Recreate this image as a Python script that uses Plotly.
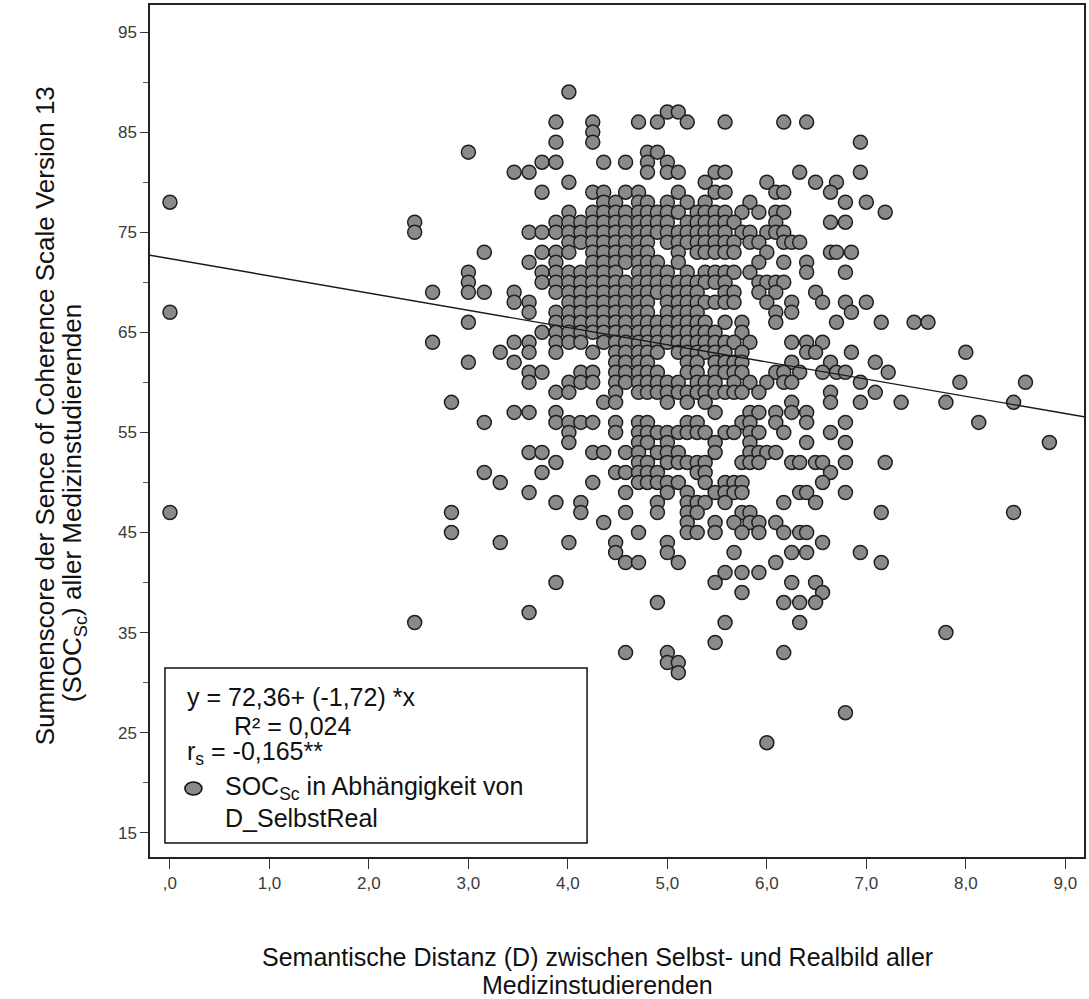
import plotly.graph_objects as go

# ---- data: SOC sum score -> semantic distance D (Selbst vs. Real) of each student ----
soc_89 = [4.01]
soc_87 = [5.00, 5.11]
soc_86 = [3.88, 4.25, 4.71, 4.90, 5.20, 5.58, 6.17, 6.40]
soc_85 = [4.25]
soc_84 = [3.88, 4.25, 6.94]
soc_83 = [3.00, 4.80, 4.90]
soc_82 = [3.74, 3.88, 4.36, 4.58, 4.80, 5.00]
soc_81 = [3.46, 3.61, 4.80, 5.00, 5.11, 5.48, 5.58, 6.33, 6.94]
soc_80 = [4.01, 5.38, 6.00, 6.49, 6.70]
soc_79 = [3.74, 4.25, 4.36, 4.58, 4.71, 5.11, 5.48, 5.58, 6.09, 6.17, 6.64]
soc_78 = [0.00, 4.36, 4.48, 4.71, 4.80, 5.00, 5.20, 5.38, 5.83, 6.79, 7.00]
soc_77 = [4.01, 4.25, 4.36, 4.48, 4.58, 4.71, 4.80, 4.90, 5.00, 5.11, 5.30, 5.38,
          5.48, 5.58, 5.75, 5.92, 6.09, 6.17, 7.19]
soc_76 = [2.46, 3.88, 4.01, 4.13, 4.25, 4.36, 4.48, 4.58, 4.71, 4.80, 4.90, 5.00,
          5.20, 5.30, 5.38, 5.48, 5.58, 5.67, 6.09, 6.64, 6.79]
soc_75 = [2.46, 3.61, 3.74, 3.88, 4.01, 4.13, 4.25, 4.36, 4.48, 4.58, 4.71, 4.80,
          4.90, 5.00, 5.11, 5.20, 5.30, 5.38, 5.48, 5.58, 5.75, 5.83, 6.00, 6.09, 6.17]
soc_74 = [4.01, 4.13, 4.25, 4.36, 4.48, 4.58, 4.71, 4.80, 5.00, 5.11, 5.20, 5.30,
          5.38, 5.48, 5.58, 5.67, 5.83, 5.92, 6.17, 6.25, 6.33]
soc_73 = [3.16, 3.74, 3.88, 4.01, 4.25, 4.36, 4.48, 4.58, 4.71, 4.80, 5.11, 5.30,
          5.38, 5.48, 5.58, 5.67, 6.00, 6.64, 6.70, 6.85]
soc_72 = [3.61, 3.88, 4.25, 4.36, 4.48, 4.58, 4.71, 4.80, 4.90, 5.11, 5.92, 6.17, 6.40]
soc_71 = [3.00, 3.74, 3.88, 4.01, 4.13, 4.25, 4.36, 4.48, 4.71, 4.80, 4.90, 5.00,
          5.20, 5.38, 5.48, 5.58, 5.67, 5.83, 6.40, 6.79]
soc_70 = [3.00, 3.74, 3.88, 4.01, 4.13, 4.25, 4.36, 4.48, 4.58, 4.71, 4.80, 4.90,
          5.00, 5.11, 5.20, 5.30, 5.38, 5.48, 5.58, 5.92, 6.00, 6.09, 6.17]
soc_69 = [2.64, 3.00, 3.16, 3.46, 3.88, 4.01, 4.13, 4.25, 4.36, 4.48, 4.58, 4.71,
          4.80, 4.90, 5.00, 5.11, 5.20, 5.30, 5.58, 5.67, 5.92, 6.09, 6.49]
soc_68 = [3.46, 3.61, 4.01, 4.13, 4.25, 4.36, 4.48, 4.58, 4.71, 4.80, 5.00, 5.11,
          5.20, 5.30, 5.38, 5.48, 5.58, 5.67, 6.00, 6.25, 6.56, 6.79, 7.00]
soc_67 = [0.00, 3.61, 3.88, 4.01, 4.13, 4.25, 4.36, 4.48, 4.58, 4.71, 4.80, 5.00,
          5.11, 5.20, 5.30, 6.09, 6.25, 6.85]
soc_66 = [3.00, 3.88, 4.01, 4.13, 4.25, 4.36, 4.48, 4.58, 4.71, 4.80, 4.90, 5.00,
          5.11, 5.20, 5.30, 5.38, 5.58, 5.75, 6.09, 6.70, 7.15, 7.48, 7.62]
soc_65 = [3.74, 3.88, 4.01, 4.13, 4.25, 4.36, 4.48, 4.58, 4.71, 4.80, 4.90, 5.00,
          5.11, 5.20, 5.30, 5.38, 5.48, 5.75]
soc_64 = [2.64, 3.46, 3.61, 3.88, 4.01, 4.13, 4.36, 4.48, 4.58, 4.71, 4.80, 4.90,
          5.00, 5.11, 5.20, 5.30, 5.38, 5.48, 5.58, 5.67, 5.83, 6.25, 6.40, 6.56]
soc_63 = [3.32, 3.61, 3.88, 4.25, 4.48, 4.58, 4.71, 4.80, 4.90, 5.11, 5.20, 5.30,
          5.38, 5.48, 5.58, 5.75, 6.40, 6.49, 6.85, 8.00]
soc_62 = [3.00, 3.46, 4.48, 4.58, 4.71, 4.80, 5.20, 5.30, 5.48, 5.58, 5.67, 5.75,
          6.25, 6.64, 7.09]
soc_61 = [3.61, 3.74, 4.13, 4.25, 4.48, 4.58, 4.71, 4.80, 4.90, 5.20, 5.30, 5.48,
          5.58, 5.67, 5.75, 6.09, 6.17, 6.33, 6.56, 6.70, 6.79, 7.22]
soc_60 = [3.61, 4.01, 4.13, 4.25, 4.48, 4.58, 4.71, 4.80, 4.90, 5.00, 5.11, 5.30,
          5.38, 5.48, 5.67, 5.83, 6.00, 6.17, 6.25, 6.94, 7.94, 8.60]
soc_59 = [3.88, 4.01, 4.48, 4.71, 4.80, 4.90, 5.00, 5.11, 5.20, 5.30, 5.38, 5.48,
          5.58, 5.67, 5.75, 5.92, 6.64, 7.09]
soc_58 = [2.83, 4.36, 4.48, 5.00, 5.20, 5.38, 6.25, 6.64, 6.94, 7.35, 7.80, 8.48]
soc_57 = [3.46, 3.61, 3.88, 5.48, 5.83, 5.92, 6.09, 6.25, 6.40]
soc_56 = [3.16, 3.88, 4.01, 4.13, 4.25, 4.48, 4.71, 4.80, 5.20, 5.30, 5.75, 5.83,
          6.09, 6.40, 6.79, 8.13]
soc_55 = [4.01, 4.48, 4.71, 4.80, 4.90, 5.00, 5.11, 5.20, 5.30, 5.38, 5.58, 5.67,
          5.83, 5.92, 6.17, 6.64]
soc_54 = [4.01, 4.71, 4.80, 5.00, 5.48, 5.83, 6.40, 6.79, 8.84]
soc_53 = [3.61, 3.74, 4.25, 4.36, 4.58, 4.71, 4.90, 5.00, 5.11, 5.48, 5.83, 5.92,
          6.00, 6.09]
soc_52 = [3.88, 4.71, 4.80, 5.00, 5.11, 5.20, 5.30, 5.38, 5.75, 5.83, 5.92, 6.25,
          6.33, 6.49, 6.56, 6.79, 7.19]
soc_51 = [3.16, 3.74, 4.48, 4.58, 4.71, 4.80, 4.90, 5.30, 5.38, 6.64]
soc_50 = [3.32, 4.25, 4.71, 4.80, 4.90, 5.00, 5.11, 5.38, 5.58, 5.67, 5.75, 6.56]
soc_49 = [3.61, 4.58, 5.00, 5.20, 5.48, 5.58, 5.67, 5.75, 6.33, 6.40, 6.79]
soc_48 = [3.88, 4.13, 4.90, 5.20, 5.30, 5.38, 5.58, 6.17, 6.49]
soc_47 = [0.00, 2.83, 4.13, 4.58, 4.90, 5.20, 5.30, 5.75, 5.83, 7.15, 8.48]
soc_46 = [4.36, 5.20, 5.48, 5.67, 5.83, 5.92, 6.09]
soc_45 = [2.83, 4.71, 5.20, 5.30, 5.48, 5.75, 5.92, 6.17, 6.33, 6.40]
soc_44 = [3.32, 4.01, 4.48, 5.00, 6.56]
soc_43 = [4.48, 5.00, 5.67, 6.25, 6.40, 6.94]
soc_42 = [4.58, 4.71, 5.11, 6.09, 7.15]
soc_41 = [5.58, 5.75, 5.92]
soc_40 = [3.88, 5.48, 6.25, 6.49]
soc_39 = [5.75, 6.56]
soc_38 = [4.90, 6.17, 6.33, 6.49]
soc_37 = [3.61]
soc_36 = [2.46, 5.58, 6.33]
soc_35 = [7.80]
soc_34 = [5.48]
soc_33 = [4.58, 5.00, 6.17]
soc_32 = [5.00, 5.11]
soc_31 = [5.11]
soc_27 = [6.79]
soc_24 = [6.00]

score_rows = [
    (89, soc_89), (87, soc_87), (86, soc_86), (85, soc_85), (84, soc_84),
    (83, soc_83), (82, soc_82), (81, soc_81), (80, soc_80), (79, soc_79),
    (78, soc_78), (77, soc_77), (76, soc_76), (75, soc_75), (74, soc_74),
    (73, soc_73), (72, soc_72), (71, soc_71), (70, soc_70), (69, soc_69),
    (68, soc_68), (67, soc_67), (66, soc_66), (65, soc_65), (64, soc_64),
    (63, soc_63), (62, soc_62), (61, soc_61), (60, soc_60), (59, soc_59),
    (58, soc_58), (57, soc_57), (56, soc_56), (55, soc_55), (54, soc_54),
    (53, soc_53), (52, soc_52), (51, soc_51), (50, soc_50), (49, soc_49),
    (48, soc_48), (47, soc_47), (46, soc_46), (45, soc_45), (44, soc_44),
    (43, soc_43), (42, soc_42), (41, soc_41), (40, soc_40), (39, soc_39),
    (38, soc_38), (37, soc_37), (36, soc_36), (35, soc_35), (34, soc_34),
    (33, soc_33), (32, soc_32), (31, soc_31), (27, soc_27), (24, soc_24),
]

# linear fit reported in the legend box
intercept = 72.36
slope = -1.72
r_squared = "0,024"
r_spearman = "-0,165**"

x_tick_vals = [0, 1, 2, 3, 4, 5, 6, 7, 8, 9]
x_tick_text = [",0", "1,0", "2,0", "3,0", "4,0", "5,0", "6,0", "7,0", "8,0", "9,0"]
y_tick_vals = [15, 25, 35, 45, 55, 65, 75, 85, 95]

# ---- figure geometry ----
W, H = 1089, 999
L, R, T, B = 150, 1086, 5, 857          # plot-area edges in pixels
X_RANGE = [-0.2006, 9.188]
Y_RANGE = [12.58, 97.70]
FONT = "Arial, 'Liberation Sans', sans-serif"


def px(xp):
    return (xp - L) / (R - L)


def py(yp):
    return (B - yp) / (B - T)


dist = [d for _, row in score_rows for d in row]
soc = [s for s, row in score_rows for _ in row]

fig = go.Figure()

fig.add_trace(go.Scatter(
    x=dist, y=soc, mode="markers",
    marker=dict(size=14, color="#8a8a8a", line=dict(color="#1e1e1e", width=1.5)),
    showlegend=False, hoverinfo="skip",
))

fit_x = X_RANGE
fit_y = [intercept + slope * v for v in fit_x]
fig.add_trace(go.Scatter(
    x=fit_x, y=fit_y, mode="lines",
    line=dict(color="#1a1a1a", width=1.4),
    showlegend=False, hoverinfo="skip",
))

axis_common = dict(
    showgrid=False, zeroline=False, showline=True, linecolor="#222222",
    linewidth=1.5, mirror=True, ticks="outside", tickcolor="#333333",
    tickfont=dict(family=FONT, size=17, color="#3a3a3a"),
)

fig.update_xaxes(
    range=X_RANGE, tickmode="array", tickvals=x_tick_vals, ticktext=x_tick_text,
    ticklen=10, tickwidth=1.3, **axis_common,
)
fig.update_yaxes(
    range=Y_RANGE, tickmode="array", tickvals=y_tick_vals,
    ticklen=8, tickwidth=1.3,
    minor=dict(tickmode="linear", tick0=15, dtick=5, ticks="outside",
               ticklen=5, tickcolor="#555555", tickwidth=1),
    **axis_common,
)

annotations = []

# axis titles
title_font = dict(family=FONT, size=25, color="#111111")
ytitle_font = dict(family=FONT, size=26, color="#111111")
annotations += [
    dict(text="Semantische Distanz (D) zwischen Selbst- und Realbild aller",
         x=px(598), y=py(957), xref="paper", yref="paper",
         xanchor="center", yanchor="middle", showarrow=False, font=title_font),
    dict(text="Medizinstudierenden",
         x=px(598), y=py(985), xref="paper", yref="paper",
         xanchor="center", yanchor="middle", showarrow=False, font=title_font),
    dict(text="Summenscore der Sence of Coherence Scale Version 13",
         x=px(45), y=py(416), xref="paper", yref="paper", textangle=-90,
         xanchor="center", yanchor="middle", showarrow=False, font=ytitle_font),
    dict(text="(SOC<sub>Sc</sub>) aller Medizinstudierenden",
         x=px(73), y=py(503), xref="paper", yref="paper", textangle=-90,
         xanchor="center", yanchor="middle", showarrow=False, font=ytitle_font),
]

# legend box contents
box_font = dict(family=FONT, size=25, color="#111111")
legend_lines = [
    (185, 697, "y = %s+ (%s) *x" % (f"{intercept:.2f}".replace(".", ","),
                                    f"{slope:.2f}".replace(".", ","))),
    (232, 726, "R² = " + r_squared),
    (185, 753, "r<sub>s</sub> = " + r_spearman),
    (223, 788, "SOC<sub>Sc</sub> in Abhängigkeit von"),
    (223, 818, "D_SelbstReal"),
]
for xl, yl, txt in legend_lines:
    annotations.append(dict(text=txt, x=px(xl), y=py(yl), xref="paper", yref="paper",
                            xanchor="left", yanchor="middle", showarrow=False,
                            font=box_font))

shapes = [
    dict(type="rect", xref="paper", yref="paper",
         x0=px(165), x1=px(588), y0=py(843), y1=py(668),
         line=dict(color="#111111", width=1.5), fillcolor="white", layer="above"),
    dict(type="circle", xref="paper", yref="paper",
         x0=px(185), x1=px(202), y0=py(795), y1=py(782),
         line=dict(color="#111111", width=1.6), fillcolor="#8a8a8a", layer="above"),
]

fig.update_layout(
    width=W, height=H,
    margin=dict(l=L, r=W - R, t=T, b=H - B, pad=0),
    paper_bgcolor="white", plot_bgcolor="white",
    annotations=annotations, shapes=shapes,
    showlegend=False,
)

fig.write_html("out.html")
